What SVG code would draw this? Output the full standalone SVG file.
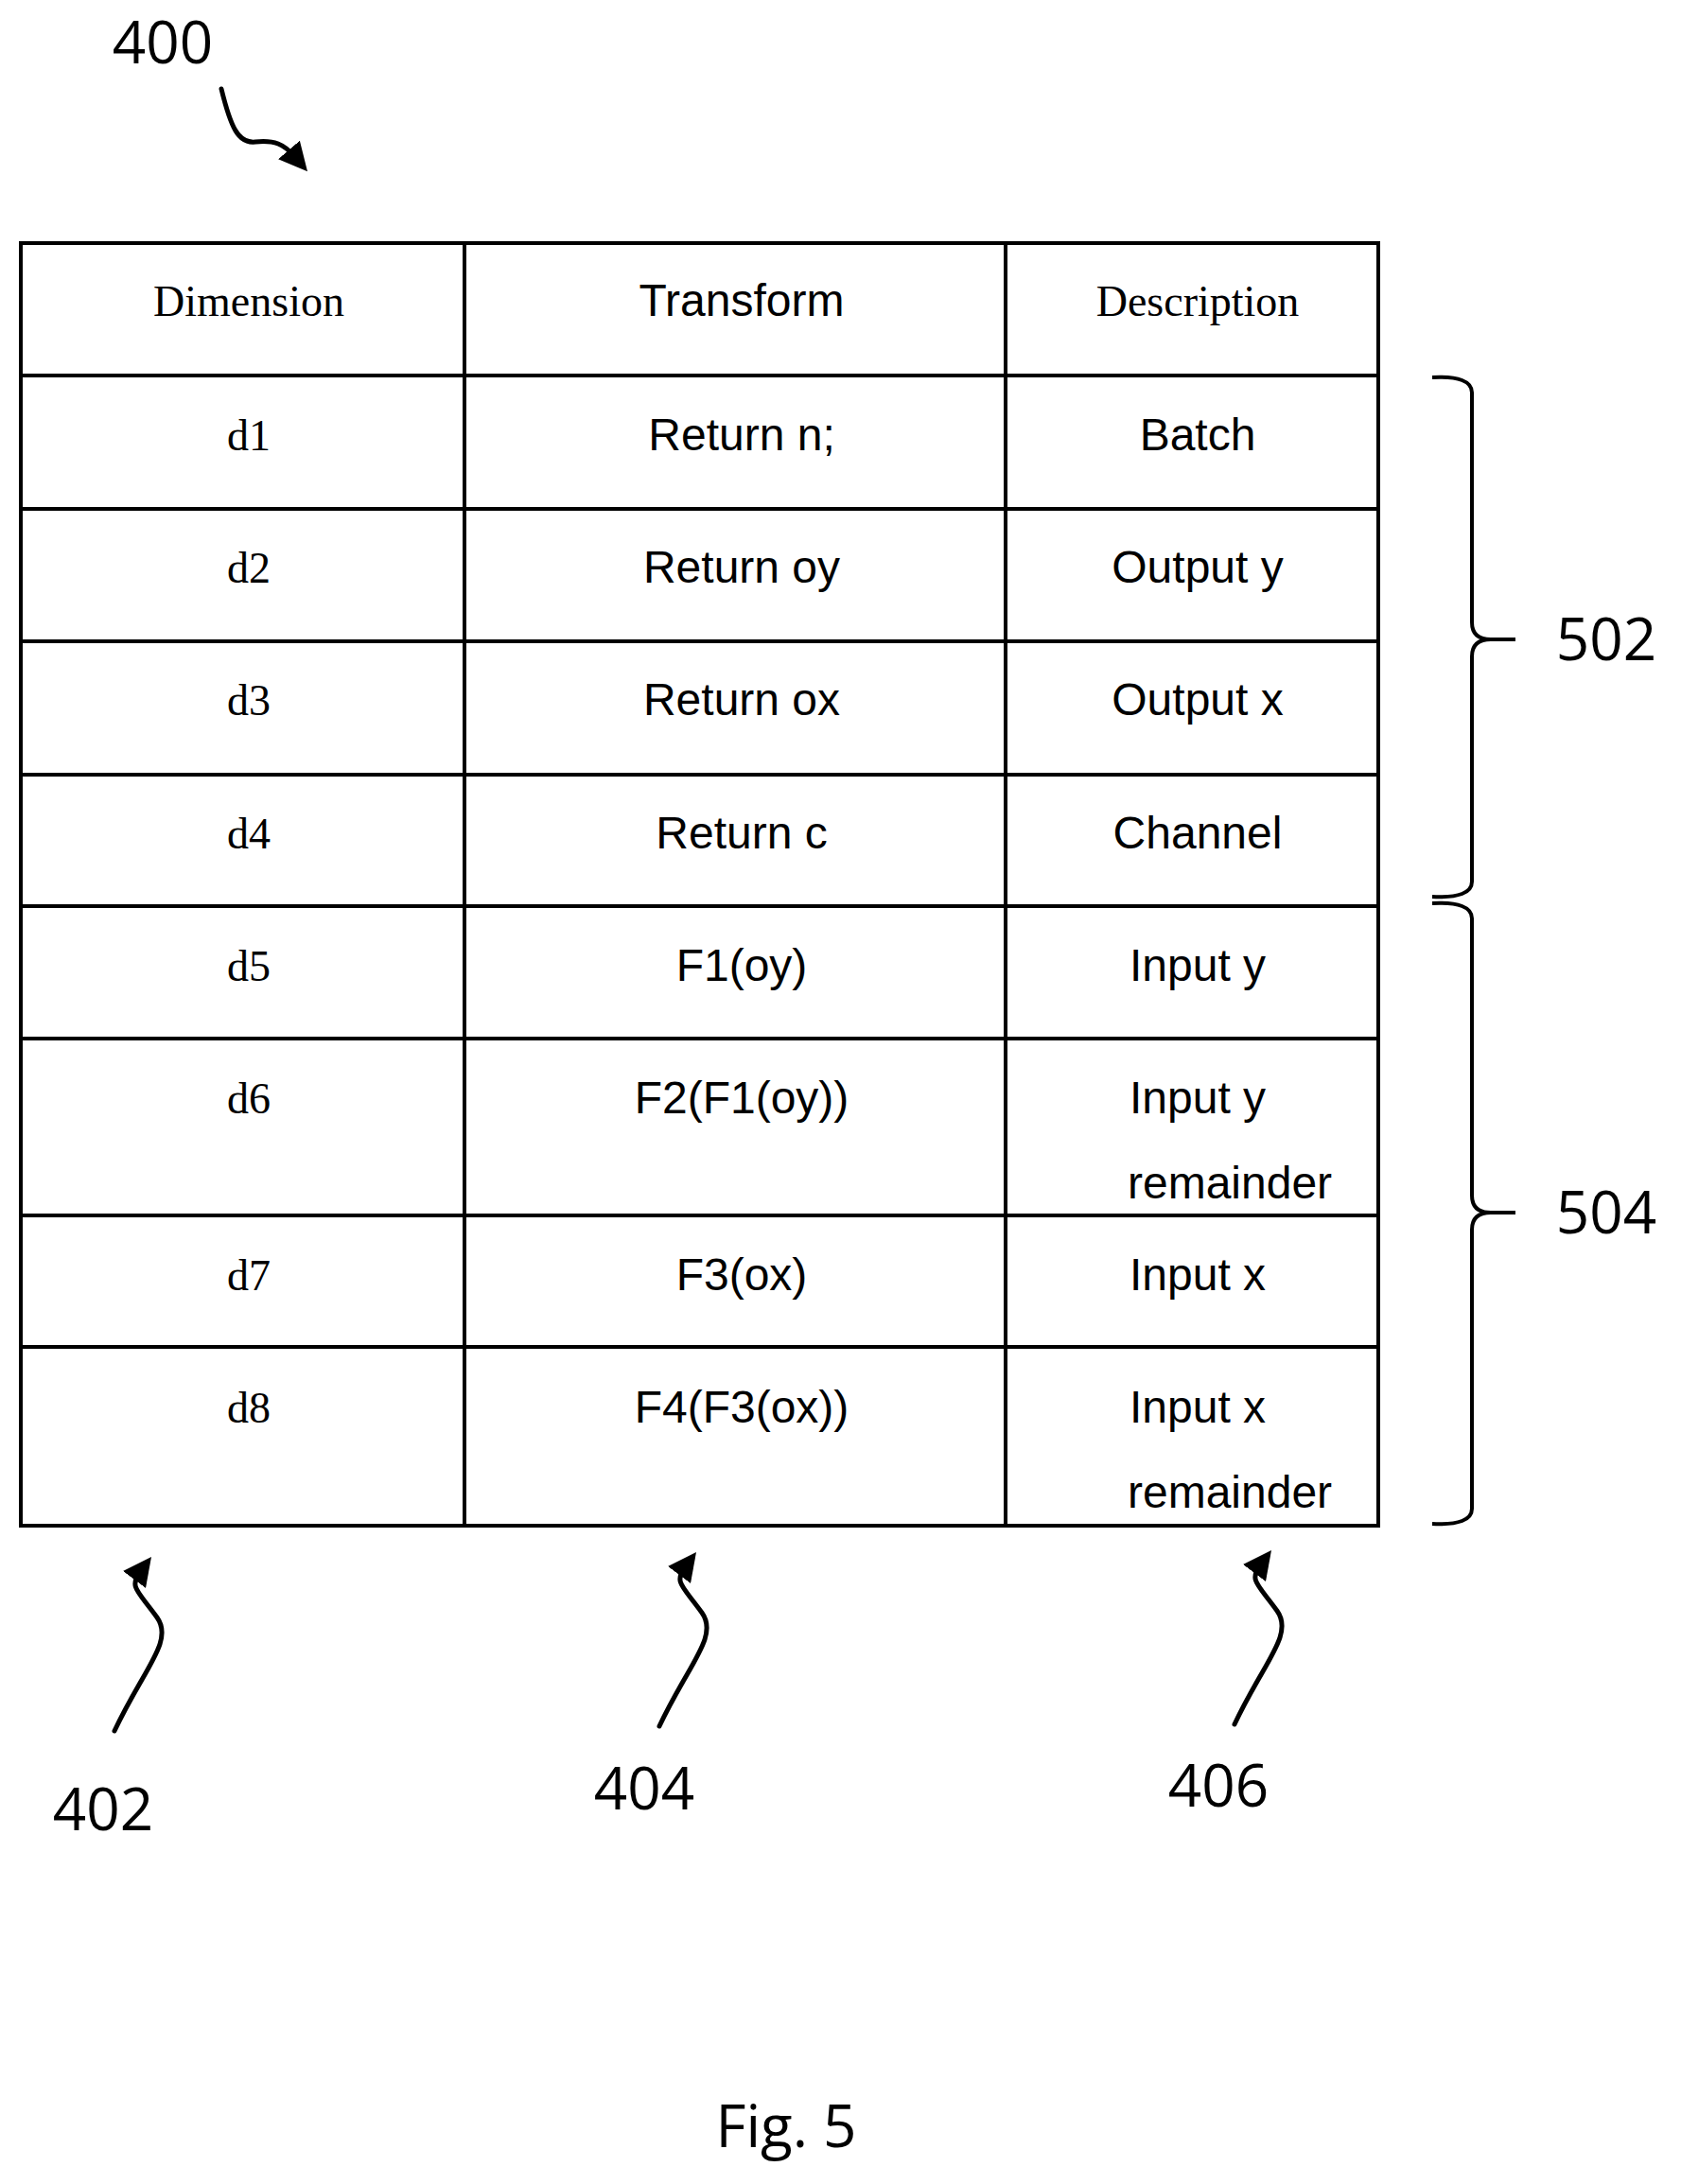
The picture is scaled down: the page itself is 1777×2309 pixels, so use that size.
<svg xmlns="http://www.w3.org/2000/svg" width="1777" height="2309" viewBox="0 0 1777 2309">
<style>
.g{stroke:#000;stroke-width:4;fill:none}
.s{font-family:"Liberation Sans",Arial,sans-serif;font-size:48px;text-anchor:middle;fill:#000}
.r{font-family:"Liberation Serif","Times New Roman",serif;font-size:46px;text-anchor:middle;fill:#000}
.l{font-family:"Open Sans","Liberation Sans",sans-serif;font-size:62px;text-anchor:middle;fill:#000}
.a{stroke:#000;stroke-width:5;fill:none;stroke-linecap:round}
</style>
<defs><marker id="ah" markerWidth="6" markerHeight="6" refX="2" refY="3" orient="auto" markerUnits="strokeWidth"><path d="M0,0 L6,3 L0,6 z" fill="#000"/></marker></defs>
<g id="table">
<rect class="g" x="22" y="257" width="1435" height="1356"/>
<path class="g" d="M491,257V1613M1063,257V1613M22,397H1457M22,538H1457M22,678H1457M22,819H1457M22,958H1457M22,1098H1457M22,1285H1457M22,1424H1457"/>
</g>
<g id="header"><text class="r" x="263" y="334">Dimension</text><text class="s" x="784" y="334">Transform</text><text class="r" x="1266" y="334">Description</text></g>
<g id="row1"><text class="r" x="263" y="476">d1</text><text class="s" x="784" y="476">Return n;</text><text class="s" x="1266" y="476">Batch</text></g>
<g id="row2"><text class="r" x="263" y="616">d2</text><text class="s" x="784" y="616">Return oy</text><text class="s" x="1266" y="616">Output y</text></g>
<g id="row3"><text class="r" x="263" y="756">d3</text><text class="s" x="784" y="756">Return ox</text><text class="s" x="1266" y="756">Output x</text></g>
<g id="row4"><text class="r" x="263" y="897">d4</text><text class="s" x="784" y="897">Return c</text><text class="s" x="1266" y="897">Channel</text></g>
<g id="row5"><text class="r" x="263" y="1037">d5</text><text class="s" x="784" y="1037">F1(oy)</text><text class="s" x="1266" y="1037">Input y</text></g>
<g id="row6"><text class="r" x="263" y="1177">d6</text><text class="s" x="784" y="1177">F2(F1(oy))</text><text class="s" x="1266" y="1177">Input y</text><text class="s" x="1192" y="1267" style="text-anchor:start">remainder</text></g>
<g id="row7"><text class="r" x="263" y="1364">d7</text><text class="s" x="784" y="1364">F3(ox)</text><text class="s" x="1266" y="1364">Input x</text></g>
<g id="row8"><text class="r" x="263" y="1504">d8</text><text class="s" x="784" y="1504">F4(F3(ox))</text><text class="s" x="1266" y="1504">Input x</text><text class="s" x="1192" y="1594" style="text-anchor:start">remainder</text></g>
<g id="brace502"><path class="g" d="M1514,399 Q1556,397 1556,415 V658 Q1556,676 1576,676 H1602 M1576,676 Q1556,676 1556,694 V932 Q1556,950 1514,948"/><text class="l" x="1698" y="698">502</text></g>
<g id="brace504"><path class="g" d="M1514,955 Q1556,953 1556,971 V1264 Q1556,1282 1576,1282 H1602 M1576,1282 Q1556,1282 1556,1300 V1595 Q1556,1613 1514,1611"/><text class="l" x="1698" y="1304">504</text></g>
<g id="connectors">
<path class="a" marker-end="url(#ah)" d="M234,94 C244,135 252,152 270,150 C290,148 300,152 312,166"/>
<path class="a" marker-end="url(#ah)" d="M121,1830 C152,1764 184,1735 166,1710 C146,1682 136,1678 148,1662"/>
<path class="a" marker-end="url(#ah)" d="M697,1825 C728,1759 760,1730 742,1705 C722,1677 712,1673 724,1657"/>
<path class="a" marker-end="url(#ah)" d="M1305,1823 C1336,1757 1368,1728 1350,1703 C1330,1675 1320,1671 1332,1655"/>
</g>
<g id="labels"><text class="l" x="172" y="67">400</text><text class="l" x="109" y="1935">402</text><text class="l" x="681" y="1913">404</text><text class="l" x="1288" y="1910">406</text><text class="l" x="831" y="2270">Fig. 5</text></g>
</svg>
